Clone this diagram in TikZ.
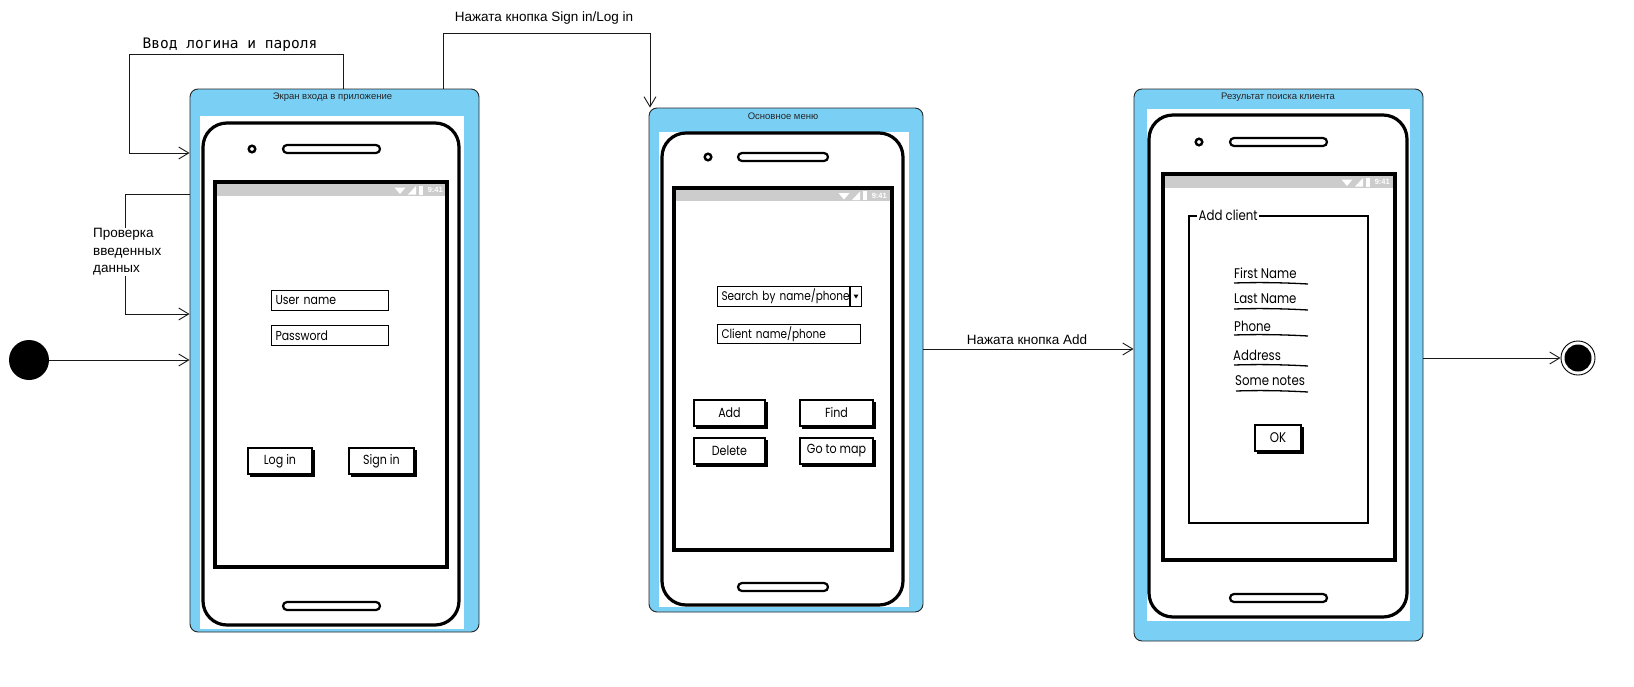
\documentclass[tikz,border=0pt]{standalone}
\usepackage{fontspec}
\setmainfont{Liberation Sans}
\newfontfamily\monofont{DejaVu Sans Mono}
\newfontfamily\uifont[FakeStretch=0.84]{Poppins}
\usetikzlibrary{arrows.meta,calc}

\definecolor{stateblue}{RGB}{122,207,245}
\definecolor{bargray}{RGB}{204,204,204}

\tikzset{
  state/.style={draw=black!85, line width=0.9pt, fill=stateblue, rounded corners=8pt, inner sep=0pt},
  title/.style={font=\fontsize{9.5}{11}\selectfont, inner sep=0pt, text=black!85},
  trans/.style={draw=black!90, line width=0.9pt, -{Straight Barb[length=10pt,width=12pt,line width=0.9pt]}},
  tlabel/.style={font=\fontsize{13.5}{17.5}\selectfont, inner sep=1pt},
  phonebody/.style={line width=3.2pt, rounded corners=24pt},
  pill/.style={line width=2.2pt, rounded corners=4pt},
  screen/.style={line width=4.5pt},
  ui/.style={font=\uifont\fontsize{13}{15}\selectfont},
  dropfont/.style={font=\uifont\fontsize{12.5}{14}\selectfont},
  btnfont/.style={font=\uifont\fontsize{13.2}{15}\selectfont},
  formfont/.style={font=\uifont\fontsize{14}{16}\selectfont},
  field/.style={draw, line width=1.4pt, ui, inner xsep=4pt, inner ysep=0pt, align=left, text width=#1, minimum height=20pt},
  btn/.style={draw, line width=1.3pt, fill=white, btnfont, inner sep=0pt},
  uline/.style={line width=1.3pt},
}

% dark shadow strip under a sketched button
\newcommand\btnshadow[1]{%
  \draw[line width=2.4pt] ([xshift=3pt,yshift=-1pt]#1.south west) -- ([xshift=1pt,yshift=-1pt]#1.south east) -- ([xshift=1pt,yshift=-3pt]#1.north east);}

% status bar icons: node name, right end x, centre y
\newcommand\sbaricons[3]{%
  \node[anchor=east, inner sep=0pt, text=white, font=\fontsize{7.5}{8}\selectfont\bfseries] (#1) at (#2,#3) {9:41};
  \fill[white] (#2-24,#3-4.5) rectangle (#2-20.5,#3+4.5);
  \fill[white] (#2-35,#3+4.5) -- (#2-27,#3+4.5) -- (#2-27,#3-4) -- cycle;
  \fill[white] (#2-43,#3+4) -- (#2-48.5,#3-2.5) -- (#2-37.5,#3-2.5) -- cycle;}

\begin{document}
\begin{tikzpicture}[x=1pt,y=-1pt]
\useasboundingbox (0,0) rectangle (1634,686);
\fill[white] (0,0) rectangle (1634,686);

% ---------- states ----------
\node[state, minimum width=289pt, minimum height=543pt] (s1) at (334.5,360.5) {};
\node[state, minimum width=274pt, minimum height=504pt] (s2) at (786,360) {};
\node[state, minimum width=289pt, minimum height=552pt] (s3) at (1278.5,365) {};

\node[title] (t1) at (332.5,97) {Экран входа в приложение};
\node[title] (t2) at (783,116) {Основное меню};
\node[title] (t3) at (1278,97) {Результат поиска клиента};

% ---------- phone 1: login screen ----------
\fill[white] (200,116) rectangle (464,629);
\draw[phonebody] (203,123) rectangle (459,625);
\draw[line width=2.4pt] (252,149) circle (3.3pt);
\draw[pill] (283,145) rectangle (380,153);
\fill[bargray] (217,184) rectangle (445,196);
\draw[screen] (215,182) rectangle (447,567);
\sbaricons{clk1}{443}{190}
\draw[pill] (283,602) rectangle (380,610);

\node[field=109pt] (user) at (330,300.5) {User name};
\node[field=109pt] (pass) at (330,335.5) {Password};
\node[btn, minimum width=64pt, minimum height=26pt] (login) at (280,461) {Log in};
\btnshadow{login}
\node[btn, minimum width=65pt, minimum height=26pt] (signin) at (381.5,461) {Sign in};
\btnshadow{signin}

% ---------- phone 2: main menu ----------
\fill[white] (659,132) rectangle (909,607);
\draw[phonebody] (662,133) rectangle (903,605);
\draw[line width=2.4pt] (708,157) circle (3.3pt);
\draw[pill] (738,153) rectangle (828,161);
\fill[bargray] (676,190) rectangle (890,201);
\draw[screen] (674,188) rectangle (892,550);
\sbaricons{clk2}{887}{195.5}
\draw[pill] (738,583) rectangle (828,591);

\node[field=136pt, dropfont] (search) at (789.5,296.5) {Search by name/phone};
\draw[line width=1.1pt] (850,287) -- (850,306);
\fill (853.5,294.5) -- (858.5,294.5) -- (856,298.5) -- cycle;
\node[field=135pt, dropfont, minimum height=19pt] (client) at (789,334) {Client name/phone};
\node[btn, minimum width=71pt, minimum height=26pt] (add) at (729.5,413) {Add};
\btnshadow{add}
\node[btn, minimum width=73pt, minimum height=26pt] (find) at (836.5,413) {Find};
\btnshadow{find}
\node[btn, minimum width=71pt, minimum height=26pt] (del) at (729.5,451) {Delete};
\btnshadow{del}
\node[btn, minimum width=73pt, minimum height=26pt] (map) at (836.5,451) {Go to map};
\btnshadow{map}

% ---------- phone 3: client form ----------
\fill[white] (1147,109) rectangle (1410,621);
\draw[phonebody] (1149,115) rectangle (1407,617);
\draw[line width=2.4pt] (1199,142) circle (3.3pt);
\draw[pill] (1230,138) rectangle (1327,146);
\fill[bargray] (1165,176) rectangle (1393,188);
\draw[screen] (1163,174) rectangle (1395,560);
\sbaricons{clk3}{1390}{182}
\draw[pill] (1230,594) rectangle (1327,602);

\node[draw, line width=1.2pt, minimum width=179pt, minimum height=307pt, inner sep=0pt] (form) at (1278.5,369.5) {};
\node[formfont, fill=white, anchor=west, inner xsep=1.5pt, inner ysep=0pt] (formtitle) at (1197,215) {Add client};

\node[formfont, anchor=west, inner sep=0pt] (fname) at (1234,273) {First Name};
\draw[uline] (1234,283) .. controls (1265,282) and (1290,283) .. (1308,284);
\node[formfont, anchor=west, inner sep=0pt] (lname) at (1234,299) {Last Name};
\draw[uline] (1234,309) .. controls (1265,308) and (1290,309) .. (1308,310);
\node[formfont, anchor=west, inner sep=0pt] (phone) at (1234,326) {Phone};
\draw[uline] (1234,335) .. controls (1265,334) and (1290,335) .. (1308,336);
\node[formfont, anchor=west, inner sep=0pt] (addr) at (1233,355) {Address};
\draw[uline] (1234,365) .. controls (1265,364) and (1290,365) .. (1308,366);
\node[formfont, anchor=west, inner sep=0pt] (notes) at (1235,381) {Some notes};
\draw[uline] (1236,391) .. controls (1265,390) and (1290,391) .. (1308,392);
\node[btn, formfont, minimum width=46pt, minimum height=26pt] (ok) at (1278,438) {OK};
\btnshadow{ok}

% ---------- initial and final pseudo-states ----------
\node[circle, fill=black, minimum size=40pt, inner sep=0pt] (init) at (29,360) {};
\node[circle, draw=black, line width=0.9pt, minimum size=34pt, inner sep=0pt] (fin) at (1578,358) {};
\fill (fin.center) circle (13.5pt);

% ---------- transitions ----------
\draw[trans] (init) -- (init -| s1.west);

\coordinate (kA) at (343,54);
\coordinate (kB) at (129,153);
\draw[trans] (s1.north -| kA) -- (kA) -| (kB) -- (s1.west |- kB);
\node[font=\monofont\fontsize{14.5}{16}\selectfont, inner sep=0pt] (lblInput) at (230,45) {Ввод логина и пароля};

\coordinate (pA) at (125,194);
\coordinate (pB) at (125,314);
\draw[trans] (s1.west |- pA) -- (pA) -- (pB) -- (s1.west |- pB);
\node[tlabel, fill=white, align=left, anchor=west] (lblCheck) at (92,252) {Проверка\\введенных\\данных};

\coordinate (gA) at (443,33);
\coordinate (gB) at (650,33);
\draw[trans] (s1.north -| gA) -- (gA) -- (gB) -- (s2.north -| gB);
\node[tlabel] (lblSign) at (544,18) {Нажата кнопка Sign in/Log in};

\coordinate (aY) at (1000,349);
\draw[trans] (s2.east |- aY) -- (s3.west |- aY);
\node[tlabel] (lblAdd) at (1027,340) {Нажата кнопка Add};

\draw[trans] (s3.east |- fin) -- (fin);
\end{tikzpicture}
\end{document}
